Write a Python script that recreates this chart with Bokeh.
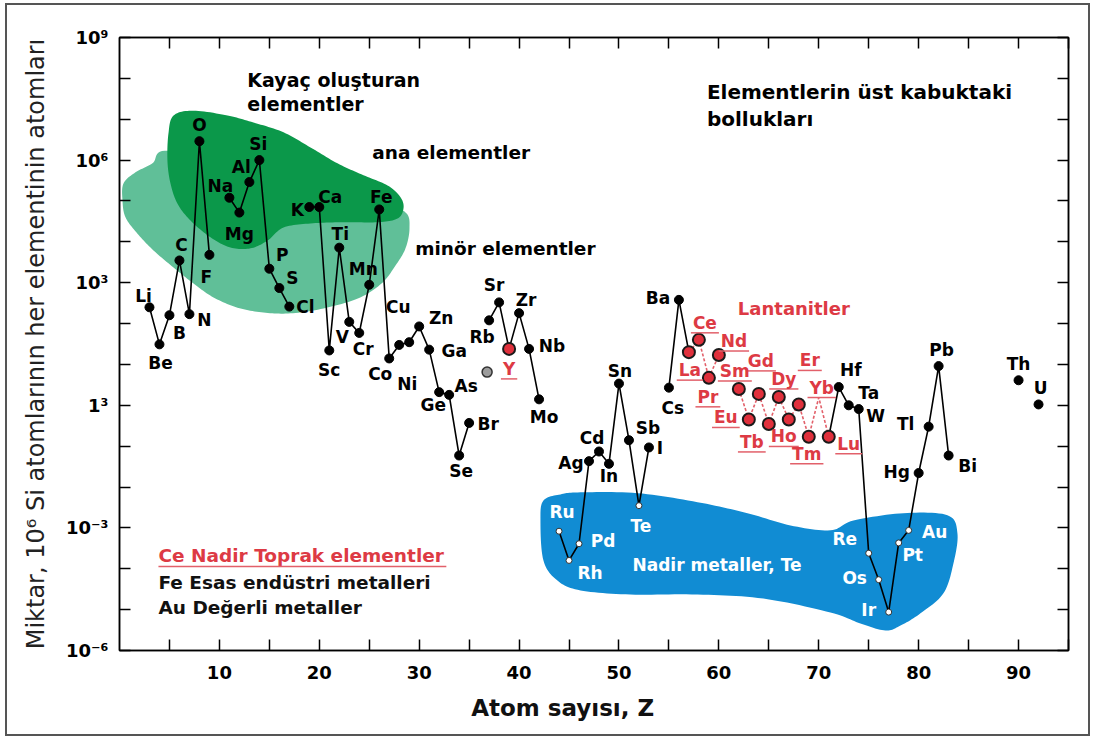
import numpy as np
from bokeh.plotting import figure
from bokeh.layouts import column
from bokeh.models import (Range1d, FixedTicker, CustomJSTickFormatter, LinearAxis,
                          LogAxis, Title, ColumnDataSource)
from bokeh.core.properties import value
from bokeh.embed import file_html
from bokeh.resources import INLINE

# ---------------------------------------------------------------- data
element_z = [3, 4, 5, 6, 7, 8, 9, 11, 12, 13, 14, 15, 16, 17, 19, 20, 21, 22, 23, 24,
             25, 26, 27, 28, 29, 30, 31, 32, 33, 34, 35, 37, 38, 39, 40, 41, 42, 44, 45,
             46, 47, 48, 49, 50, 51, 52, 53, 55, 56, 57, 58, 59, 60, 62, 63, 64, 65, 66,
             67, 68, 69, 70, 71, 72, 73, 74, 75, 76, 77, 78, 79, 80, 81, 82, 83, 90, 92]
element_symbol = ["Li", "Be", "B", "C", "N", "O", "F", "Na", "Mg", "Al", "Si", "P", "S",
                  "Cl", "K", "Ca", "Sc", "Ti", "V", "Cr", "Mn", "Fe", "Co", "Ni", "Cu",
                  "Zn", "Ga", "Ge", "As", "Se", "Br", "Rb", "Sr", "Y", "Zr", "Nb", "Mo",
                  "Ru", "Rh", "Pd", "Ag", "Cd", "In", "Sn", "Sb", "Te", "I", "Cs", "Ba",
                  "La", "Ce", "Pr", "Nd", "Sm", "Eu", "Gd", "Tb", "Dy", "Ho", "Er", "Tm",
                  "Yb", "Lu", "Hf", "Ta", "W", "Re", "Os", "Ir", "Pt", "Au", "Hg", "Tl",
                  "Pb", "Bi", "Th", "U"]
# atoms per 10^6 Si atoms
element_abundance = [250, 31, 160, 3500, 170, 2.9e6, 4800, 1.2e5, 5.2e4, 2.9e5, 1.0e6,
                     2200, 740, 260, 7.1e4, 7.1e4, 22, 7200, 110, 59, 890, 6.2e4, 14, 30,
                     35, 85, 23, 2.1, 1.8, 0.059, 0.37, 120, 330, 24, 180, 24, 1.4,
                     8.3e-4, 1.6e-4, 4.1e-4, 0.043, 0.074, 0.037, 3.4, 0.14, 3.5e-3, 0.093,
                     2.7, 380, 20, 40, 4.7, 17, 2.5, 0.45, 1.9, 0.35, 1.6, 0.45, 1.05,
                     0.17, 1.55, 0.17, 2.8, 1.0, 0.81, 2.4e-4, 5.4e-5, 8.7e-6, 4.3e-4,
                     8.7e-4, 0.022, 0.30, 9.1, 0.059, 4.1, 1.05]

noble_metals = ["Ru", "Rh", "Pd", "Te", "Re", "Os", "Ir", "Pt", "Au"]
rare_earths = ["Y", "La", "Ce", "Pr", "Nd", "Sm", "Eu", "Gd", "Tb", "Dy", "Ho", "Er",
               "Tm", "Yb", "Lu"]
no_marker = ["Yb"]

# unlabeled grey point (noble gas)
grey_point_z = [36.8]
grey_point_abundance = [6.5]

# consecutive runs joined by lines
solid_runs = [(3, 9), (11, 17), (19, 35), (37, 42), (44, 53), (55, 57), (71, 83)]
dashed_runs = [(57, 60), (62, 71)]

y_tick_text = {9: "10⁹", 6: "10⁶", 3: "10³", 0: "1³", -3: "10⁻³", -6: "10⁻⁶"}
x_tick_values = [10, 20, 30, 40, 50, 60, 70, 80, 90]

# field outlines as (Z, log10 abundance) control points
major_zone_z = [5.41, 7.41, 10.81, 13.41, 16.42, 19.12, 21.82, 24.42, 26.83, 28.13, 28.43,
                27.83, 25.83, 22.42, 19.12, 16.42, 14.81, 13.11, 11.11, 9.11, 7.11, 5.81,
                5.11, 4.80, 4.90]
major_zone_exp = [7.09, 7.21, 7.09, 6.92, 6.68, 6.31, 5.92, 5.63, 5.38, 5.09, 4.82, 4.57,
                  4.48, 4.48, 4.45, 4.35, 4.03, 3.84, 3.86, 4.11, 4.52, 4.93, 5.42, 5.98,
                  6.65]
minor_zone_z = [0.40, 1.60, 3.30, 4.90, 13.11, 26.13, 28.63, 29.03, 28.63, 27.63, 26.23,
                23.92, 20.42, 17.12, 14.41, 11.81, 9.41, 7.41, 5.41, 3.40, 1.80, 0.60, 0.30]
minor_zone_exp = [5.43, 5.70, 5.92, 6.23, 5.75, 4.89, 4.72, 4.33, 3.84, 3.42, 2.98, 2.62,
                  2.37, 2.25, 2.27, 2.39, 2.64, 2.98, 3.37, 3.79, 4.20, 4.60, 5.01]
rare_metal_zone_z = [42.44, 44.14, 46.15, 51.85, 57.86, 62.86, 67.17, 71.17, 73.47, 78.48,
                     82.88, 83.88, 83.48, 82.48, 80.18, 78.18, 76.68, 74.17, 71.17, 64.46,
                     57.86, 51.15, 46.15, 43.84, 42.44, 42.14]
rare_metal_zone_exp = [-2.33, -2.18, -2.13, -2.15, -2.37, -2.64, -2.94, -3.06, -2.82,
                       -2.64, -2.69, -3.13, -3.87, -4.60, -5.09, -5.39, -5.51, -5.34,
                       -5.07, -4.73, -4.63, -4.63, -4.53, -4.29, -3.80, -2.82]

# ---------------------------------------------------------------- layout
X_MIN, X_MAX = 0, 95
LOG_MIN, LOG_MAX = -6, 9
FRAME_W, FRAME_H = 949, 613
PX_PER_Z = FRAME_W / (X_MAX - X_MIN)
PX_PER_DEC = FRAME_H / (LOG_MAX - LOG_MIN)

FONT = "DejaVu Sans"
RED = "#dd3a44"
RED_LINE = "#e2606a"

# label placement around each point, in screen pixels (dx right, dy down)
label_offset = {
    "Li": (-6, -11), "Be": (1, 19), "B": (10, 18), "C": (2, -15), "N": (15, 6),
    "O": (0, -16), "F": (-3, 22), "Na": (-9, -12), "Mg": (0, 21), "Al": (-8, -15),
    "Si": (-1, -16), "P": (13, -14), "S": (13, -10), "Cl": (16, 0), "K": (-12, 3),
    "Ca": (11, -10), "Sc": (0, 20), "Ti": (1, -14), "V": (-7, 15), "Cr": (4, 16),
    "Mn": (-6, -16), "Fe": (2, -12), "Co": (-9, 16), "Ni": (8, 39), "Cu": (-11, -35),
    "Zn": (22, -8), "Ga": (25, 1), "Ge": (-6, 13), "As": (17, -9), "Se": (2, 15),
    "Br": (19, 1), "Rb": (-7, 17), "Sr": (-5, -17), "Y": (0, 20), "Zr": (7, -13),
    "Nb": (23, -3), "Mo": (5, 18), "Ru": (3, -19), "Rh": (21, 13), "Pd": (24, -3),
    "Ag": (-18, 2), "Cd": (-7, -14), "In": (0, 12), "Sn": (1, -13), "Sb": (19, -12),
    "Te": (2, 20), "I": (11, 1), "Cs": (4, 20), "Ba": (-21, -2), "La": (1, 18),
    "Ce": (6, -17), "Pr": (-1, 19), "Nd": (15, -14), "Sm": (-4, -18), "Eu": (-23, -2),
    "Gd": (2, -33), "Tb": (-17, 18), "Dy": (5, -18), "Ho": (-5, 17), "Er": (11, -44),
    "Tm": (-2, 17), "Yb": (3, -10), "Lu": (20, 7), "Hf": (12, -17), "Ta": (20, -12),
    "W": (17, 7), "Re": (-24, -14), "Os": (-24, -2), "Ir": (-20, -2), "Pt": (14, 12),
    "Au": (26, 2), "Hg": (-22, -1), "Tl": (-23, -3), "Pb": (3, -16), "Bi": (19, 10),
    "Th": (0, -16), "U": (2, -16),
}

# advance widths (em) of DejaVu Sans Bold, used for underline lengths
GLYPH_EM = {" ": .348, "C": .734, "e": .678, "N": .837, "a": .675, "d": .716, "i": .343,
            "r": .493, "T": .682, "o": .687, "p": .716, "k": .665, "l": .343, "m": 1.042,
            "n": .712, "t": .478, "L": .637, "P": .733, "S": .72, "E": .683, "u": .712,
            "G": .821, "b": .716, "D": .83, "y": .652, "H": .837, "Y": .724, "A": .774,
            ",": .38, "Z": .725, "s": .595, "ı": .343}


def text_width(s, size):
    return sum(GLYPH_EM.get(c, .7) for c in s) * size


def smooth_closed(xs, ys, n=12):
    pts = np.column_stack([xs, ys])
    m = len(pts)
    out = []
    for i in range(m):
        p0, p1, p2, p3 = pts[(i - 1) % m], pts[i], pts[(i + 1) % m], pts[(i + 2) % m]
        for t in np.linspace(0, 1, n, endpoint=False):
            out.append(0.5 * (2 * p1 + (-p0 + p2) * t + (2 * p0 - 5 * p1 + 4 * p2 - p3) * t * t
                              + (-p0 + 3 * p1 - 3 * p2 + p3) * t ** 3))
    out = np.array(out)
    return out[:, 0], 10.0 ** out[:, 1]


p = figure(frame_width=FRAME_W, frame_height=FRAME_H, y_axis_type="log",
           x_range=Range1d(X_MIN, X_MAX), y_range=Range1d(10.0 ** LOG_MIN, 10.0 ** LOG_MAX),
           output_backend="svg", toolbar_location=None,
           min_border_left=112, min_border_right=20, min_border_top=32, min_border_bottom=84,
           background_fill_color="white", border_fill_color="white")
p.grid.visible = False
p.outline_line_color = "black"
p.outline_line_width = 1.5

# ---------------------------------------------------------------- axes
x_ticker = FixedTicker(ticks=x_tick_values, minor_ticks=[5 + 10 * k for k in range(10)])
y_ticker = FixedTicker(ticks=[10.0 ** e for e in y_tick_text],
                       minor_ticks=[10.0 ** e for e in range(LOG_MIN, LOG_MAX + 1)
                                    if e not in y_tick_text])
y_code = "const e = Math.round(Math.log10(tick)); const m = %s; return m[String(e)] || '';" % (
    "{" + ",".join('"%d":"%s"' % (k, v) for k, v in y_tick_text.items()) + "}")


def style_axis(ax):
    ax.axis_line_color = "black"
    ax.axis_line_width = 1.5
    ax.major_tick_in = 11
    ax.major_tick_out = 0
    ax.minor_tick_in = 11
    ax.minor_tick_out = 0
    ax.major_tick_line_color = "black"
    ax.minor_tick_line_color = "black"
    ax.major_tick_line_width = 1.5
    ax.minor_tick_line_width = 1.5
    ax.major_label_text_font = FONT
    ax.major_label_text_font_style = "bold"
    ax.major_label_text_font_size = "18px"
    ax.major_label_text_color = "black"


xa = p.xaxis[0]
style_axis(xa)
xa.ticker = x_ticker
xa.major_label_standoff = 15

ya = p.yaxis[0]
style_axis(ya)
ya.ticker = y_ticker
ya.formatter = CustomJSTickFormatter(code=y_code)
ya.major_label_standoff = 11
ya.axis_label = "Miktar, 10⁶ Si atomlarının her elementinin atomları"
ya.axis_label_text_font = FONT
ya.axis_label_text_font_style = "normal"
ya.axis_label_text_font_size = "24px"
ya.axis_label_text_color = "#222222"
ya.axis_label_standoff = 13

top_axis = LinearAxis(ticker=x_ticker)
style_axis(top_axis)
top_axis.major_label_text_font_size = "1px"
top_axis.major_label_text_color = None
top_axis.major_label_standoff = 0
p.add_layout(top_axis, "above")

right_axis = LogAxis(ticker=y_ticker)
style_axis(right_axis)
right_axis.major_label_text_font_size = "1px"
right_axis.major_label_text_color = None
right_axis.major_label_standoff = 0
p.add_layout(right_axis, "right")

# x axis title, placed a little left of the frame centre
x_title = "Atom sayısı, Z"
X_TITLE_SIZE = 23
x_title_centre_z = 44.4
p.add_layout(Title(text=x_title, align="left",
                   offset=x_title_centre_z * PX_PER_Z - text_width(x_title, X_TITLE_SIZE) / 2,
                   text_font=FONT, text_font_style="bold",
                   text_font_size=f"{X_TITLE_SIZE}px", text_color="#111111",
                   standoff=23), "below")

# ---------------------------------------------------------------- fields
for zs, es, color in [(minor_zone_z, minor_zone_exp, "#60bf98"),
                      (major_zone_z, major_zone_exp, "#0b984a"),
                      (rare_metal_zone_z, rare_metal_zone_exp, "#118cd3")]:
    sx, sy = smooth_closed(zs, es)
    p.patch(sx, sy, fill_color=color, line_color=None)

# ---------------------------------------------------------------- lines
z_arr = np.array(element_z)
a_arr = np.array(element_abundance, dtype=float)


def runs_to_lines(runs):
    xs, ys = [], []
    for lo, hi in runs:
        sel = (z_arr >= lo) & (z_arr <= hi)
        xs.append(list(z_arr[sel]))
        ys.append(list(a_arr[sel]))
    return xs, ys


sx, sy = runs_to_lines(dashed_runs)
p.multi_line(sx, sy, line_color=RED_LINE, line_width=1.6, line_dash="3 2")
sx, sy = runs_to_lines(solid_runs)
p.multi_line(sx, sy, line_color="black", line_width=1.6)

# ---------------------------------------------------------------- markers
kind = []
for s in element_symbol:
    if s in no_marker:
        kind.append("none")
    elif s in noble_metals:
        kind.append("noble")
    elif s in rare_earths:
        kind.append("ree")
    else:
        kind.append("common")
kind = np.array(kind)

m = kind == "common"
p.scatter(z_arr[m], a_arr[m], size=9, fill_color="black", line_color="black")
m = kind == "noble"
p.scatter(z_arr[m], a_arr[m], size=6, fill_color="white", line_color="#333333",
          line_width=1)
m = kind == "ree"
p.scatter(z_arr[m], a_arr[m], size=12, fill_color="#e0303c", line_color="#1a1a1a",
          line_width=2)
p.scatter(grey_point_z, grey_point_abundance, size=10, fill_color="#9c9c9c",
          line_color="#333333", line_width=1.5)

# ---------------------------------------------------------------- element labels
LABEL_SIZE = 17
lab = dict(x=[], y=[], text=[], dx=[], dy=[], color=[])
ul_x0, ul_x1, ul_y = [], [], []
for z, s, a, k in zip(element_z, element_symbol, element_abundance, kind):
    dx, dy = label_offset[s]
    col = "white" if s in noble_metals else (RED if s in rare_earths else "black")
    lab["x"].append(z)
    lab["y"].append(a)
    lab["text"].append(s)
    lab["dx"].append(dx)
    lab["dy"].append(dy)
    lab["color"].append(col)
    if s in rare_earths:
        half = text_width(s, LABEL_SIZE) / 2 + 2
        ul_x0.append(z + (dx - half) / PX_PER_Z)
        ul_x1.append(z + (dx + half) / PX_PER_Z)
        ul_y.append(10.0 ** (np.log10(a) - (dy + 10) / PX_PER_DEC))

p.segment(ul_x0, ul_y, ul_x1, ul_y, line_color=RED_LINE, line_width=1.5)
p.text(x="x", y="y", text="text", x_offset="dx", y_offset="dy", text_color="color",
       source=ColumnDataSource(lab), text_align="center", text_baseline="middle",
       text_font=value(FONT), text_font_style="bold", text_font_size=f"{LABEL_SIZE}px")

# ---------------------------------------------------------------- annotations
notes = [
    ("Kayaç oluşturan", 12.8, 7.95, "black", 19),
    ("elementler", 12.8, 7.38, "black", 19),
    ("ana elementler", 25.3, 6.19, "black", 18.5),
    ("minör elementler", 29.6, 3.83, "black", 18.5),
    ("Elementlerin üst kabuktaki", 58.8, 7.66, "black", 20),
    ("bollukları", 58.8, 7.01, "black", 20),
    ("Lantanitler", 61.9, 2.37, RED, 18),
    ("Nadir metaller, Te", 51.35, -3.92, "white", 17),
    ("Ce Nadir Toprak elementler", 3.9, -3.675, RED, 18.5),
    ("Fe Esas endüstri metalleri", 3.9, -4.34, "#111111", 18.5),
    ("Au Değerli metaller", 3.9, -4.95, "#111111", 18.5),
]
for txt, z, e, col, size in notes:
    p.text(x=[z], y=[10.0 ** e], text=[txt], text_color=col, text_align="left",
           text_baseline="middle", text_font=value(FONT), text_font_style="bold",
           text_font_size=f"{size}px")

legend_txt, lz, le, _, lsize = notes[8]
lw = text_width(legend_txt, lsize)
uy = 10.0 ** (le - 11 / PX_PER_DEC)
p.segment([lz], [uy], [lz + lw / PX_PER_Z], [uy], line_color=RED_LINE, line_width=1.5)

# thin frame drawn around the whole figure
page = column(p, styles={"margin-left": "7px", "margin-top": "5px",
                         "outline": "2px solid #555555"})

with open("out.html", "w", encoding="utf-8") as f:
    f.write(file_html(page, INLINE))
